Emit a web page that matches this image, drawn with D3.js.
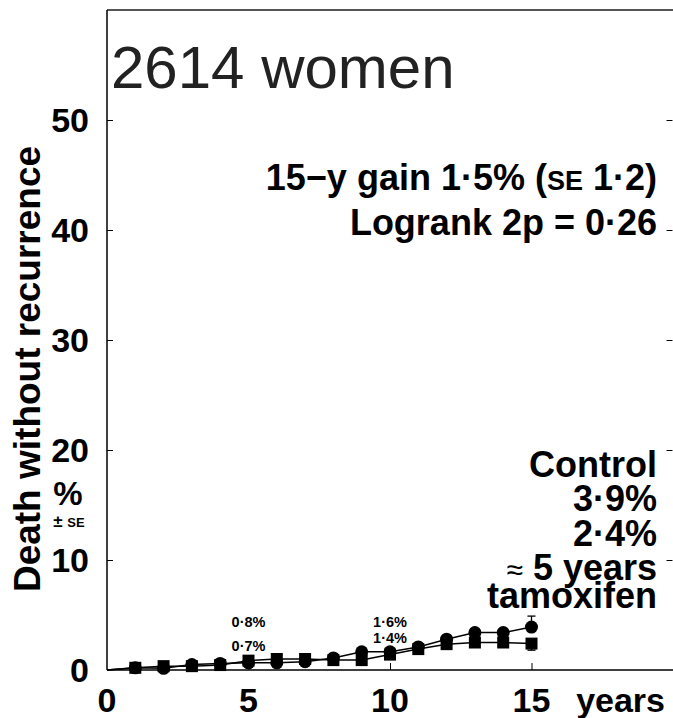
<!DOCTYPE html>
<html>
<head>
<meta charset="utf-8">
<script src="https://cdn.jsdelivr.net/npm/d3@7"></script>
<style>
  body { margin: 0; background: #fff; }
  text { font-family: "Liberation Sans", Arial, sans-serif; }
</style>
</head>
<body>
<div class="graphic"></div>
<script>
// data
var years = [0, 1, 2, 3, 4, 5, 6, 7, 8, 9, 10, 11, 12, 13, 14, 15];
var control = [0, 0.2, 0.15, 0.5, 0.6, 0.65, 0.65, 0.75, 1.1, 1.65, 1.65, 2.1, 2.8, 3.4, 3.4, 3.9];
var tamoxifen = [0, 0.2, 0.35, 0.35, 0.45, 0.85, 1.0, 1.0, 0.9, 0.9, 1.4, 1.9, 2.35, 2.5, 2.5, 2.4];
var controlSE15 = 1.0, tamoxifenSE15 = 0.6;
var yTicks = [0, 10, 20, 30, 40, 50];
var xTicks = [0, 5, 10, 15];
var midLabels = [
  {year: 5, top: "0·8%", bottom: "0·7%"},
  {year: 10, top: "1·6%", bottom: "1·4%"}
];

var width = 673, height = 718;
var margin = {top: 10, right: 0, bottom: 48, left: 107};

var x = d3.scaleLinear().domain([0, 20]).range([margin.left, width - margin.right]);
var y = d3.scaleLinear().domain([0, 60]).range([height - margin.bottom, margin.top]);

var svg = d3.select(".graphic").append("svg")
    .attr("width", width)
    .attr("height", height);

// frame: top border, left + bottom axes
svg.append("line")
    .attr("x1", x(0)).attr("x2", x(20))
    .attr("y1", y(60)).attr("y2", y(60))
    .attr("stroke", "#555").attr("stroke-width", 2);

// left axis, ticks pointing inward
var yAxis = svg.append("g")
    .attr("transform", "translate(" + x(0) + ",0)")
    .call(d3.axisRight(y).tickValues(yTicks.slice(1)).tickSize(6).tickFormat(""));
yAxis.select(".domain").attr("d", "M0," + y(0) + "V" + y(60)).attr("stroke-width", 1.5);

// right-edge ticks
svg.append("g")
    .attr("transform", "translate(" + (x(20) - 0.5) + ",0)")
    .call(d3.axisLeft(y).tickValues(yTicks.slice(1)).tickSize(6).tickFormat(""))
    .select(".domain").remove();

// bottom axis, ticks pointing up
var xAxis = svg.append("g")
    .attr("transform", "translate(0," + y(0) + ")")
    .call(d3.axisTop(x).tickValues(xTicks.slice(1)).tickSize(7).tickFormat(""));
xAxis.select(".domain").attr("d", "M" + x(0) + ",0H" + x(20)).attr("stroke-width", 1.5);

// tick labels
svg.selectAll(".ylab")
    .data(yTicks)
    .enter().append("text")
    .attr("x", 89)
    .attr("y", function(d) { return y(d) + 12; })
    .attr("text-anchor", "end")
    .attr("font-size", 34).attr("font-weight", "bold")
    .text(function(d) { return d; });

svg.selectAll(".xlab")
    .data(xTicks)
    .enter().append("text")
    .attr("x", function(d) { return x(d); })
    .attr("y", 712)
    .attr("text-anchor", "middle")
    .attr("font-size", 34).attr("font-weight", "bold")
    .text(function(d) { return d; });

svg.append("text")
    .attr("x", 665).attr("y", 712)
    .attr("text-anchor", "end")
    .attr("font-size", 34).attr("font-weight", "bold")
    .text("years");

// y title
svg.append("text")
    .attr("transform", "translate(40,369) rotate(-90)")
    .attr("text-anchor", "middle")
    .attr("font-size", 37).attr("font-weight", "bold")
    .text("Death without recurrence");

svg.append("text")
    .attr("x", 68).attr("y", 505)
    .attr("text-anchor", "middle")
    .attr("font-size", 33).attr("font-weight", "bold")
    .text("%");
svg.append("text")
    .attr("x", 69).attr("y", 527)
    .attr("text-anchor", "middle")
    .attr("font-size", 17).attr("font-weight", "bold")
    .html('± <tspan font-size="13">SE</tspan>');

// title
svg.append("text")
    .attr("x", 111).attr("y", 88)
    .attr("font-size", 60)
    .attr("fill", "#222")
    .text("2614 women");

svg.append("text")
    .attr("x", 657).attr("y", 190)
    .attr("text-anchor", "end")
    .attr("font-size", 36).attr("font-weight", "bold")
    .html('15−y gain 1·5% (<tspan font-size="27">SE</tspan> 1·2)');
svg.append("text")
    .attr("x", 657).attr("y", 235)
    .attr("text-anchor", "end")
    .attr("font-size", 36).attr("font-weight", "bold")
    .text("Logrank 2p = 0·26");

// legend block at right
var legendLines = [
  {t: "Control", y: 477},
  {t: "3·9%", y: 511},
  {t: "2·4%", y: 546},
  {t: "years", y: 580},
  {t: "tamoxifen", y: 608}
];
svg.selectAll(".leg")
    .data(legendLines)
    .enter().append("text")
    .attr("x", 657)
    .attr("y", function(d) { return d.y; })
    .attr("text-anchor", "end")
    .attr("font-size", 36).attr("font-weight", "bold")
    .html(function(d) {
      return d.t === "years" ? '<tspan font-weight="normal" font-size="30">≈</tspan> 5 years' : d.t;
    });

// small value labels at 5 and 10 years
midLabels.forEach(function(m) {
  svg.append("text")
      .attr("x", x(m.year)).attr("y", 627)
      .attr("text-anchor", "middle")
      .attr("font-size", 14.5).attr("font-weight", "bold")
      .text(m.top);
  svg.append("text")
      .attr("x", x(m.year)).attr("y", m.year === 5 ? 651 : 643)
      .attr("text-anchor", "middle")
      .attr("font-size", 14.5).attr("font-weight", "bold")
      .text(m.bottom);
});

// curves
var line = d3.line()
    .x(function(d) { return x(d[0]); })
    .y(function(d) { return y(d[1]); });

var ctrlPts = years.map(function(yr, i) { return [yr, control[i]]; });
var tamPts = years.map(function(yr, i) { return [yr, tamoxifen[i]]; });

[ctrlPts, tamPts].forEach(function(pts) {
  svg.append("path")
      .datum(pts)
      .attr("fill", "none")
      .attr("stroke", "#000")
      .attr("stroke-width", 1.5)
      .attr("d", line);
});

// error bars at 15 years
var last = years.length - 1;
function errBar(val, se, dir) {
  var g = svg.append("g").attr("stroke", "#000").attr("stroke-width", 1.3);
  g.append("line")
      .attr("x1", x(years[last])).attr("x2", x(years[last]))
      .attr("y1", y(val)).attr("y2", y(val + dir * se));
  g.append("line")
      .attr("x1", x(years[last]) - 4).attr("x2", x(years[last]) + 4)
      .attr("y1", y(val + dir * se)).attr("y2", y(val + dir * se));
}
errBar(control[last], controlSE15, 1);
errBar(tamoxifen[last], tamoxifenSE15, -1);

svg.selectAll(".sq")
    .data(tamPts.slice(1))
    .enter().append("rect")
    .attr("x", function(d) { return x(d[0]) - 6; })
    .attr("y", function(d) { return y(d[1]) - 6; })
    .attr("width", 12).attr("height", 12)
    .attr("fill", "#000");

svg.selectAll(".dot")
    .data(ctrlPts.slice(1))
    .enter().append("circle")
    .attr("cx", function(d) { return x(d[0]); })
    .attr("cy", function(d) { return y(d[1]); })
    .attr("r", 6.5)
    .attr("fill", "#000");
</script>
</body>
</html>
